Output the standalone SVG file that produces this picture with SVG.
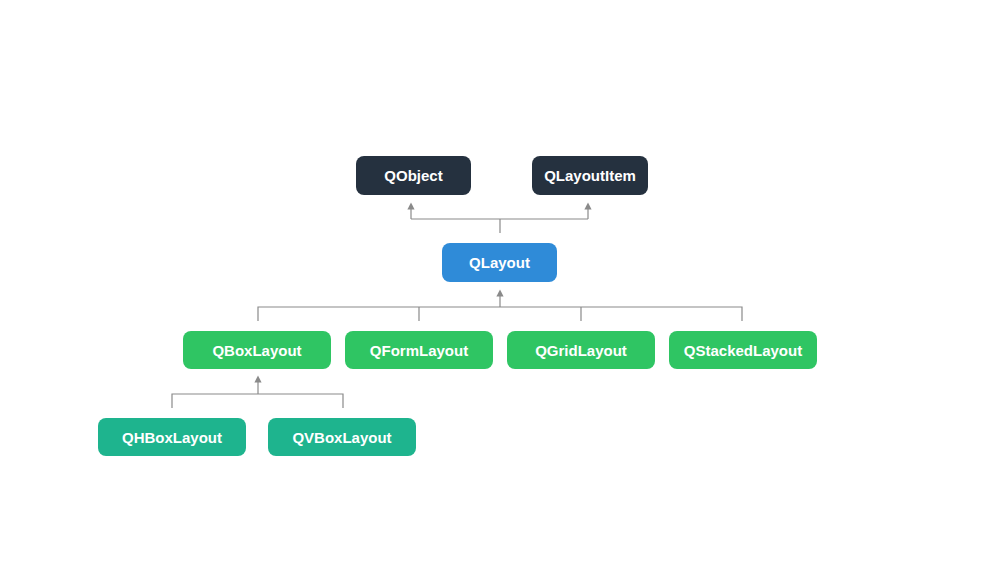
<svg xmlns="http://www.w3.org/2000/svg" width="1000" height="563" viewBox="0 0 1000 563">
<style>
.t{font-family:"Liberation Sans",Arial,sans-serif;font-size:15px;font-weight:bold;fill:#fff;text-anchor:middle;dominant-baseline:central}
.c{fill:none;stroke:#8a8a8a;stroke-width:1.2}
.dark{fill:#25313f}.blue{fill:#2f8bd8}.green{fill:#2fc563}.teal{fill:#1eb48e}
</style>
<defs>
<marker id="a" viewBox="0 0 8 8" refX="4" refY="4" markerWidth="6" markerHeight="6" orient="auto"><path d="M0,0 L8,4 L0,8 z" fill="#8a8a8a"/></marker>
</defs>
<rect width="1000" height="563" fill="#fff"/>
<g id="connectors">
<path class="c" d="M500,233 V219 M411,219 H588" />
<path class="c" d="M411,219 V206" marker-end="url(#a)"/>
<path class="c" d="M588,219 V206" marker-end="url(#a)"/>
<path class="c" d="M258,321 V307 H742 V321 M419,307 V321 M581,307 V321"/>
<path class="c" d="M500,307 V293" marker-end="url(#a)"/>
<path class="c" d="M172,408 V394 H343 V408"/>
<path class="c" d="M258,394 V379" marker-end="url(#a)"/>
</g>
<g id="QObject"><rect class="dark" x="356" y="156" width="115" height="39" rx="8"/><text class="t" x="413.5" y="175.5">QObject</text></g>
<g id="QLayoutItem"><rect class="dark" x="532" y="156" width="116" height="39" rx="8"/><text class="t" x="590" y="175.5">QLayoutItem</text></g>
<g id="QLayout"><rect class="blue" x="442" y="243" width="115" height="39" rx="8"/><text class="t" x="499.5" y="262.5">QLayout</text></g>
<g id="QBoxLayout"><rect class="green" x="183" y="331" width="148" height="38" rx="8"/><text class="t" x="257" y="350">QBoxLayout</text></g>
<g id="QFormLayout"><rect class="green" x="345" y="331" width="148" height="38" rx="8"/><text class="t" x="419" y="350">QFormLayout</text></g>
<g id="QGridLayout"><rect class="green" x="507" y="331" width="148" height="38" rx="8"/><text class="t" x="581" y="350">QGridLayout</text></g>
<g id="QStackedLayout"><rect class="green" x="669" y="331" width="148" height="38" rx="8"/><text class="t" x="743" y="350">QStackedLayout</text></g>
<g id="QHBoxLayout"><rect class="teal" x="98" y="418" width="148" height="38" rx="8"/><text class="t" x="172" y="437">QHBoxLayout</text></g>
<g id="QVBoxLayout"><rect class="teal" x="268" y="418" width="148" height="38" rx="8"/><text class="t" x="342" y="437">QVBoxLayout</text></g>
</svg>
